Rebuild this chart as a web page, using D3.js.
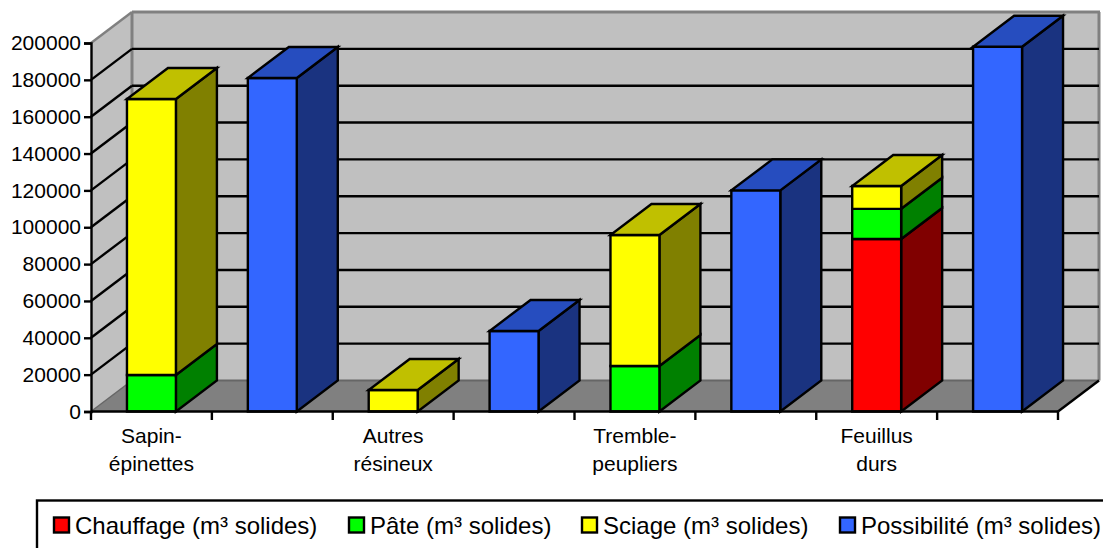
<!DOCTYPE html>
<html><head><meta charset="utf-8">
<script src="https://cdn.jsdelivr.net/npm/d3@7/dist/d3.min.js"></script>
<style>html,body{margin:0;padding:0;background:#fff;overflow:hidden}svg{display:block}text{font-family:"Liberation Sans",Arial,sans-serif;fill:#000}</style>
</head><body><svg id="c" width="1103" height="548"></svg>
<script>
const slots = ["Sapin-épinettes","Sapin-épinettes (p)","Autres résineux","Autres résineux (p)","Tremble-peupliers","Tremble-peupliers (p)","Feuillus durs","Feuillus durs (p)"];
const categoryLabels = [["Sapin-","épinettes"],[],["Autres","résineux"],[],["Tremble-","peupliers"],[],["Feuillus","durs"],[]];
const chauffage   = [0,0,0,0,0,0,93600,0];
const pate        = [19800,0,0,0,24700,0,16400,0];
const sciage      = [149800,0,11700,0,71100,0,12400,0];
const possibilite = [0,181000,0,43700,0,120000,0,198000];
const yTicks = [0,20000,40000,60000,80000,100000,120000,140000,160000,180000,200000];
const seriesNames = ["Chauffage (m³ solides)","Pâte (m³ solides)","Sciage (m³ solides)","Possibilité (m³ solides)"];
const seriesValues = [chauffage,pate,sciage,possibilite];
const front = ["#ff0000","#00ff00","#ffff00","#3366ff"];
const topC  = ["#bf0000","#00bf00","#c0c000","#264dbf"];
const side  = ["#800000","#008000","#808000","#1a3380"];
const legendX = [53,348,581,839];

const svg = d3.select("#c");
const x = d3.scaleBand().domain(slots).range([91,1058]).paddingInner(0.595).paddingOuter(0.2975);
const y = d3.scaleLinear().domain([0,200000]).range([411.5,43]);
const dx = 41, dy = -31;
const x0 = x.range()[0], x1 = x.range()[1], y0 = y(0), yT = y(200000);
const poly = (pts,fill,stroke,w)=>svg.append("polygon").attr("points",pts.map(p=>p.join(",")).join(" ")).attr("fill",fill).attr("stroke",stroke||"none").attr("stroke-width",w||0).attr("stroke-linejoin","miter");
const line = (a,b,c,w)=>svg.append("line").attr("x1",a[0]).attr("y1",a[1]).attr("x2",b[0]).attr("y2",b[1]).attr("stroke",c).attr("stroke-width",w);

// walls and floor
poly([[x0+dx,y0+dy],[x1+dx,y0+dy],[x1+dx,yT+dy],[x0+dx,yT+dy]],"#c0c0c0");
poly([[x0,y0],[x0+dx,y0+dy],[x0+dx,yT+dy],[x0,yT]],"#c0c0c0");
poly([[x0,y0],[x1,y0],[x1+dx,y0+dy],[x0+dx,y0+dy]],"#808080");
line([x0+dx,yT+dy],[x1+dx+1,yT+dy],"#808080",3);
line([x0+dx,yT+dy],[x0+dx,y0+dy],"#808080",3);
line([x1+dx,yT+dy],[x1+dx,y0+dy],"#808080",3);
line([x0,yT],[x0+dx,yT+dy],"#808080",2.4);
line([x0+dx,y0+dy],[x1+dx,y0+dy],"#666666",2);
line([x0,y0],[x0+dx,y0+dy],"#666666",1.5);
line([x1,y0],[x1+dx,y0+dy],"#000",2.4);

// gridlines
yTicks.slice(1,-1).forEach(t=>{
  line([x0,y(t)],[x0+dx,y(t)+dy],"#000",2.4);
  line([x0+dx,y(t)+dy],[x1+dx,y(t)+dy],"#000",2.4);
});

// axes
const yAxis = d3.axisLeft(y).tickValues(yTicks).tickFormat(d3.format("d")).tickSize(7).tickPadding(3);
const gy = svg.append("g").attr("transform",`translate(${x0},0)`).call(yAxis);
gy.selectAll("line,path").attr("stroke","#000").attr("stroke-width",2.4);
gy.selectAll("text").attr("font-size",21).attr("font-family",'"Liberation Sans",Arial,sans-serif');

slots.forEach((s,i)=>{
  const xs = x(s), w = x.bandwidth();
  let acc = 0, last = -1;
  seriesValues.forEach((vals,k)=>{
    const v = vals[i];
    if(!v) return;
    const yb = y(acc), yt = y(acc+v);
    poly([[xs+w,yb],[xs+w+dx,yb+dy],[xs+w+dx,yt+dy],[xs+w,yt]],side[k],"#000",2.4);
    poly([[xs,yb],[xs+w,yb],[xs+w,yt],[xs,yt]],front[k],"#000",2.4);
    acc += v; last = k;
  });
  if(last>=0){
    const yt = y(acc);
    poly([[xs,yt],[xs+w,yt],[xs+w+dx,yt+dy],[xs+dx,yt+dy]],topC[last],"#000",2.4);
  }
});

// baseline and x ticks
line([x0,y0],[x1,y0],"#000",2.6);
d3.range(slots.length+1).forEach(i=>{
  const p = x0 + i*x.step();
  line([p,y0],[p,y0+8.5],"#000",2.4);
});
categoryLabels.forEach((ls,i)=>{
  ls.forEach((t,j)=>{
    svg.append("text").attr("x",x(slots[i])+x.bandwidth()/2).attr("y",443+j*28).attr("text-anchor","middle").attr("font-size",21).text(t);
  });
});

// legend
svg.append("rect").attr("x",37).attr("y",500.5).attr("width",1090).attr("height",70).attr("fill","#fff").attr("stroke","#000").attr("stroke-width",2.4);
seriesNames.forEach((n,k)=>{
  svg.append("rect").attr("x",legendX[k]+1).attr("y",517.5).attr("width",15).attr("height",15).attr("fill",front[k]).attr("stroke","#000").attr("stroke-width",2.4);
  svg.append("text").attr("x",legendX[k]+22).attr("y",534).attr("font-size",24).text(n);
});
</script></body></html>
